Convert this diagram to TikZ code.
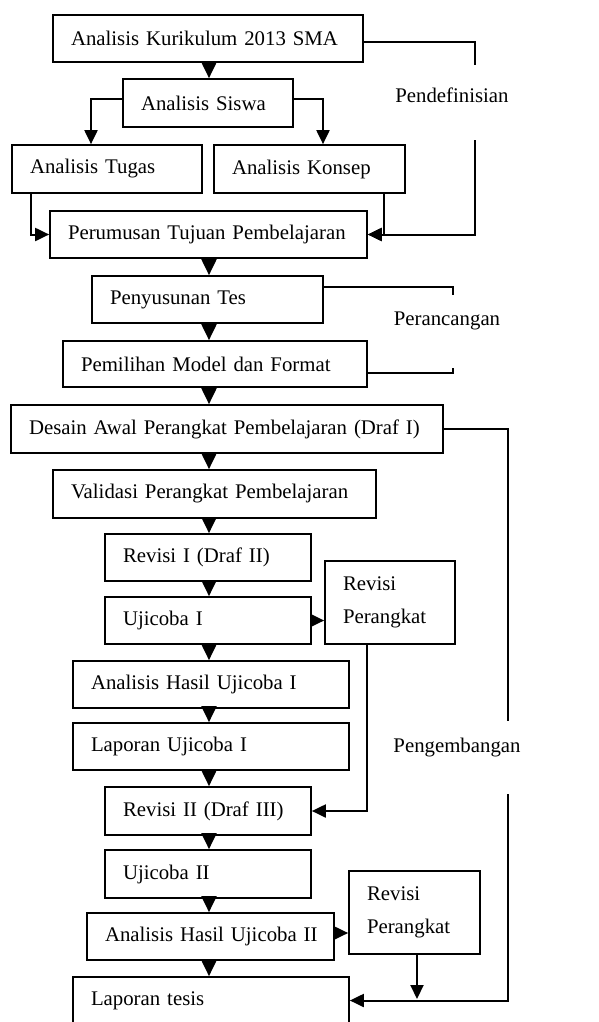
\documentclass[tikz,border=0pt]{standalone}
\usepackage{fontspec}
\setmainfont{Liberation Serif}
\usetikzlibrary{arrows.meta,calc}
\begin{document}
\begin{tikzpicture}[x=1pt,y=-1pt,
  every node/.style={font=\fontsize{20.8}{32.5}\selectfont},
  bx/.style={draw,line width=1.7pt,rectangle,inner xsep=18pt,inner ysep=0pt,align=left},
  lbl/.style={inner sep=0pt},
  ln/.style={line width=2pt},
  arr/.style={line width=2pt,-{Triangle[length=14pt,width=13pt]}},
  varr/.style={line width=2pt,-{Triangle[length=16pt,width=15pt]}}]
\useasboundingbox (0,0) rectangle (598,1022);
% boxes
\node[bx,text width=274pt,minimum height=47pt] (kur) at (208,38.5) {\mbox{Analisis Kurikulum 2013 SMA}};
\node[bx,text width=134pt,minimum height=48pt] (sis) at (208,103) {\mbox{Analisis Siswa}};
\node[bx,text width=154pt,minimum height=48pt] (tug) at (107,169) {\mbox{Analisis Tugas}};
\node[bx,text width=155pt,minimum height=48pt] (kon) at (309.5,169) {\mbox{Analisis Konsep}};
\node[bx,text width=281pt,minimum height=47pt] (per) at (208.5,234.5) {\mbox{Perumusan Tujuan Pembelajaran}};
\node[bx,text width=195pt,minimum height=47pt] (pen) at (207.5,299.5) {\mbox{Penyusunan Tes}};
\node[bx,text width=268pt,minimum height=46pt] (pem) at (215,364) {\mbox{Pemilihan Model dan Format}};
\node[bx,text width=396pt,minimum height=48pt] (des) at (227,429) {\mbox{Desain Awal Perangkat Pembelajaran (Draf I)}};
\node[bx,text width=287pt,minimum height=48pt] (val) at (214.5,494) {\mbox{Validasi Perangkat Pembelajaran}};
\node[bx,text width=170pt,minimum height=47pt] (rev1) at (208,557.5) {\mbox{Revisi I (Draf II)}};
\node[bx,text width=170pt,minimum height=47pt] (uji1) at (208,620.5) {\mbox{Ujicoba I}};
\node[bx,text width=94pt,minimum height=83pt] (rp1) at (390,602.5) {Revisi\\Perangkat};
\node[bx,text width=240pt,minimum height=47pt] (ahu1) at (211,684.5) {\mbox{Analisis Hasil Ujicoba I}};
\node[bx,text width=240pt,minimum height=47pt] (lap1) at (211,746.5) {\mbox{Laporan Ujicoba I}};
\node[bx,text width=170pt,minimum height=48pt] (rev2) at (208,811) {\mbox{Revisi II (Draf III)}};
\node[bx,text width=170pt,minimum height=48pt] (uji2) at (208,874) {\mbox{Ujicoba II}};
\node[bx,text width=211pt,minimum height=47pt] (ahu2) at (210.5,936.5) {\mbox{Analisis Hasil Ujicoba II}};
\node[bx,text width=95pt,minimum height=83pt] (rp2) at (414.5,912.5) {Revisi\\Perangkat};
\node[bx,text width=240pt,minimum height=47pt] (lt) at (211,1000.5) {\mbox{Laporan tesis}};
% phase labels
\node[lbl] (l1) at (452,95) {Pendefinisian};
\node[lbl] (l2) at (447,321) {Perancangan};
\node[lbl] (l3) at (457,748) {Pengembangan};
% main vertical axis
\coordinate (ax) at (209,0);
\foreach \a/\b in {kur/sis,per/pen,pen/pem,pem/des,des/val,val/rev1,rev1/uji1,uji1/ahu1,ahu1/lap1,lap1/rev2,rev2/uji2,uji2/ahu2,ahu2/lt}
  \draw[varr] (\a.south -| ax) -- (\b.north -| ax);
% Siswa to Tugas / Konsep
\draw[arr] (sis.west |- 0,99) -| (tug.north -| 91,0);
\draw[arr] (sis.east |- 0,99) -| (kon.north -| 323,0);
% Tugas / Konsep to Perumusan
\draw[arr] (tug.south -| 31,0) |- (per.west);
\draw[arr] (kon.south -| 384,0) |- (per.east);
% Pendefinisian bracket
\coordinate (p1) at (475,65);
\coordinate (p2) at (475,140);
\draw[ln] (kur.east |- 0,42) -| (p1);
\draw[arr] (p2) |- (per.east);
% Perancangan bracket
\coordinate (q1) at (453,295);
\coordinate (q2) at (453,368);
\draw[ln] (pen.east |- 0,287) -| (q1);
\draw[ln] (pem.east |- 0,373) -| (q2);
% Pengembangan bracket
\coordinate (r1) at (508,721);
\coordinate (r2) at (508,794);
\draw[ln] (des.east) -| (r1);
\draw[arr] (r2) |- (lt.east);
% Revisi Perangkat loops
\draw[arr] (uji1.east) -- (rp1.west |- uji1.east);
\draw[arr] (rp1.south -| 367,0) |- (rev2.east);
\draw[arr] (ahu2.east |- 0,933) -- (rp2.west |- 0,933);
\draw[arr] (rp2.south -| 417,0) -- (417,999);
\end{tikzpicture}
\end{document}
